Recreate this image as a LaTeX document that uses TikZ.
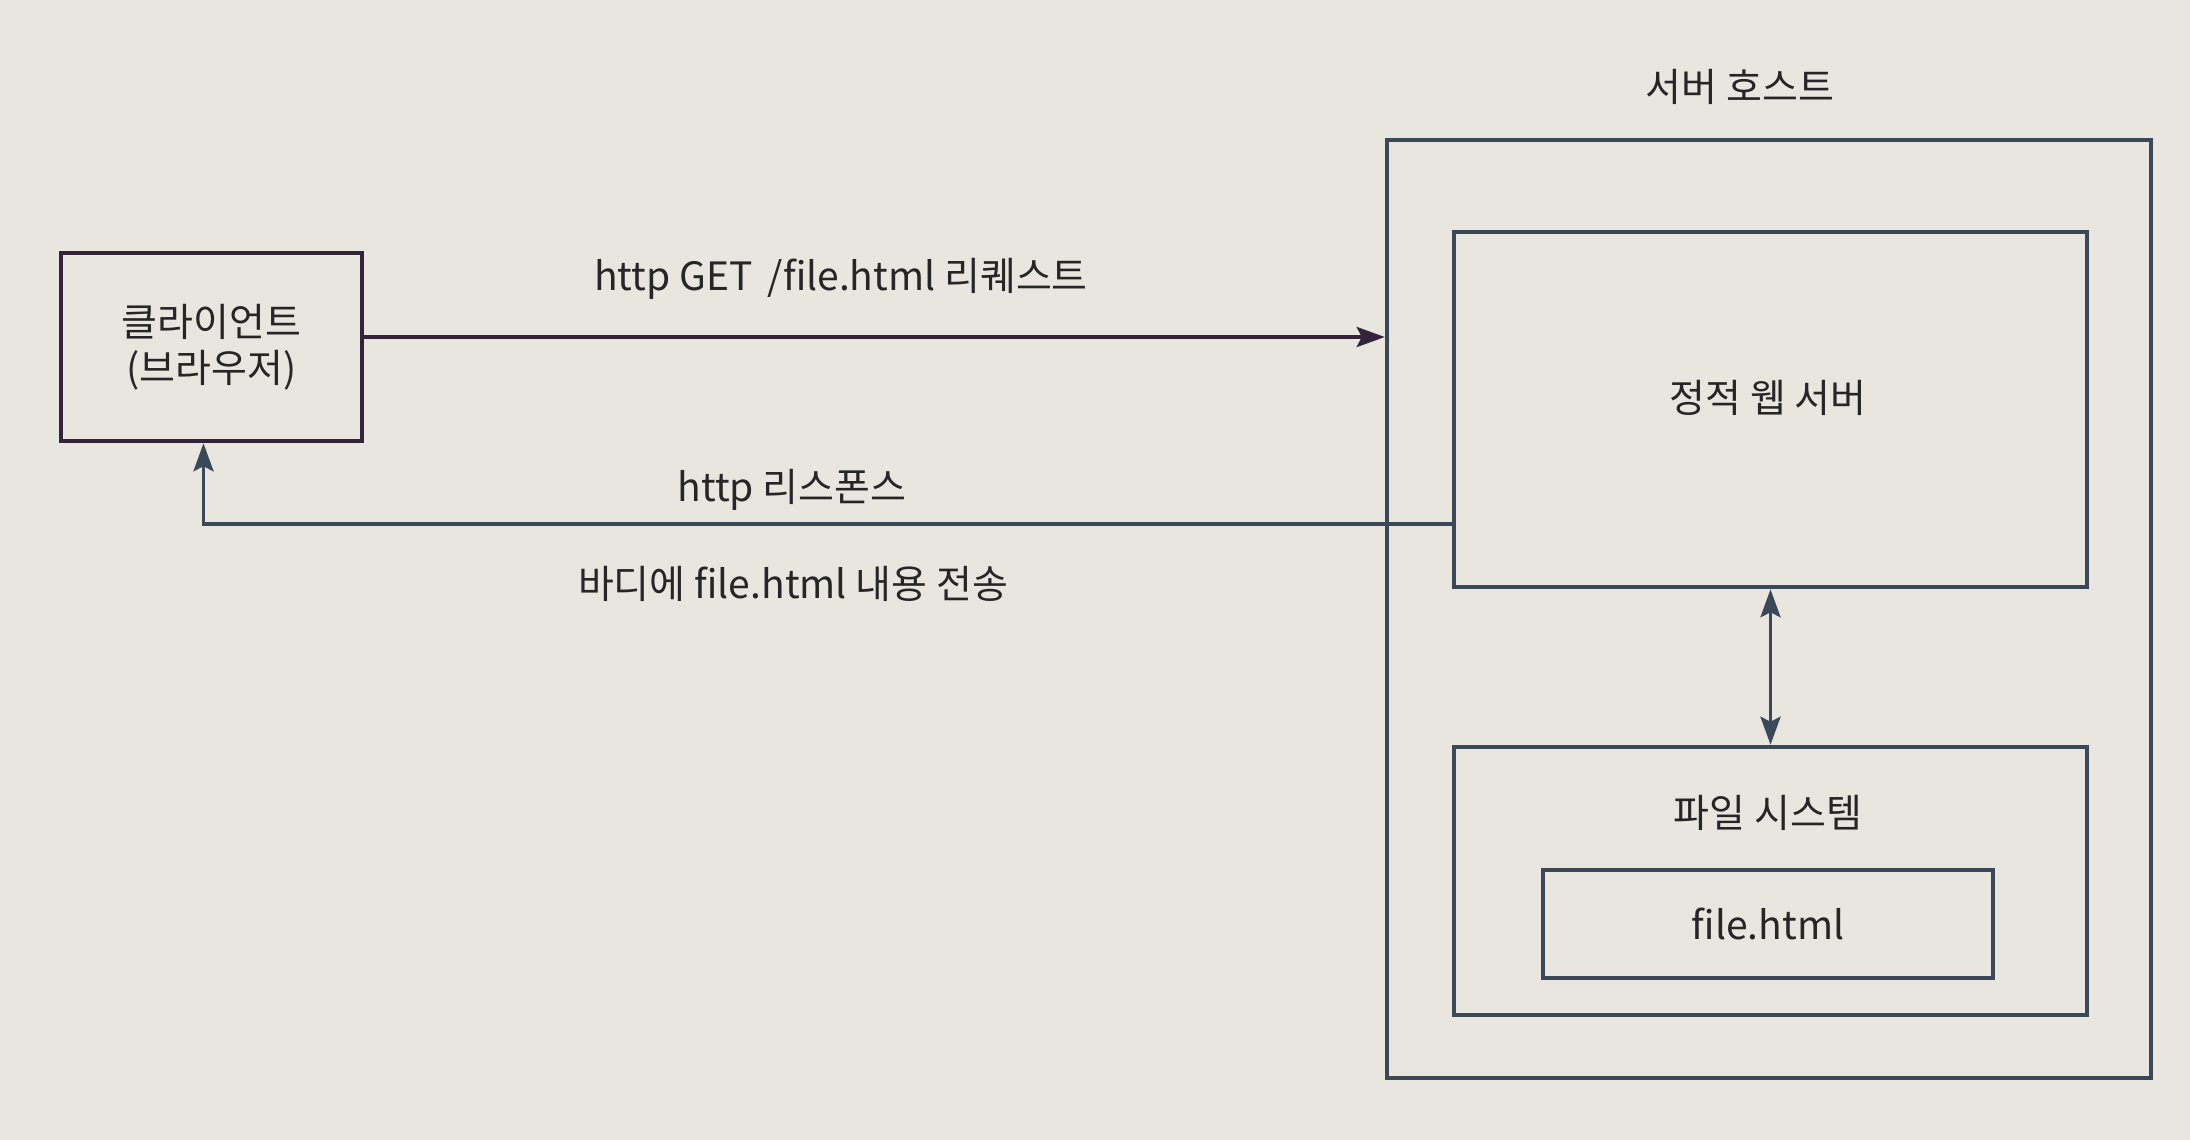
\documentclass[tikz,border=0pt]{standalone}
\usepackage{fontspec}
\setmainfont{Noto Sans CJK KR}
\usetikzlibrary{arrows.meta}
\definecolor{bgc}{RGB}{232,230,223}
\definecolor{linec}{RGB}{58,72,88}
\definecolor{reqc}{RGB}{52,36,58}
\definecolor{textc}{RGB}{38,38,40}
\tikzset{
  box/.style={draw=linec, line width=4.5pt, inner sep=0pt, text=textc},
  lbl/.style={inner sep=0pt, text=textc},
  tip/.style={Stealth[length=28pt,width=20pt,inset=5pt]},
  arr/.style={draw=linec, line width=3.6pt, -{Stealth[length=28pt,width=20pt,inset=5pt]}},
  dbl/.style={draw=linec, line width=3.6pt, {Stealth[length=28pt,width=20pt,inset=5pt]}-{Stealth[length=28pt,width=20pt,inset=5pt]}},
}
\begin{document}
\begin{tikzpicture}[x=1pt,y=-1pt,font=\fontsize{39}{46}\selectfont]
\fill[bgc] (0,0) rectangle (2190,1140);
\useasboundingbox (0,0) rectangle (2190,1140);
% client
\node[box, draw=reqc, minimum width=301pt, minimum height=188pt, align=center] (client) at (211.5,347) {클라이언트\\(브라우저)};
% server host
\node[box, minimum width=764pt, minimum height=938pt] (host) at (1769,609) {};
\node[lbl] (hosttitle) at (1740,87) {서버 호스트};
\node[box, minimum width=633pt, minimum height=355pt] (web) at (1770.5,409.5) {};
\node[lbl] (weblabel) at (1768,398) {정적 웹 서버};
\node[box, minimum width=633pt, minimum height=268pt] (fs) at (1770.5,881) {};
\node[lbl] (fslabel) at (1768,813) {파일 시스템};
\node[box, minimum width=450pt, minimum height=108pt] (file) at (1768,924) {file.html};
% request
\draw[arr, draw=reqc] ([yshift=10pt]client.east) -- ([yshift=10pt]client.east -| host.west);
\node[lbl] (reqlbl) at (841,279) {http GET\, /file.html 리퀘스트};
% response
\draw[arr] ([yshift=65pt]web.south west) -| ([xshift=-8pt]client.south);
\node[lbl] (resp1) at (792,490) {http 리스폰스};
\node[lbl] (resp2) at (793,584) {바디에 file.html 내용 전송};
% web <-> fs
\draw[dbl] (web.south) -- (fs.north);
\end{tikzpicture}
\end{document}
